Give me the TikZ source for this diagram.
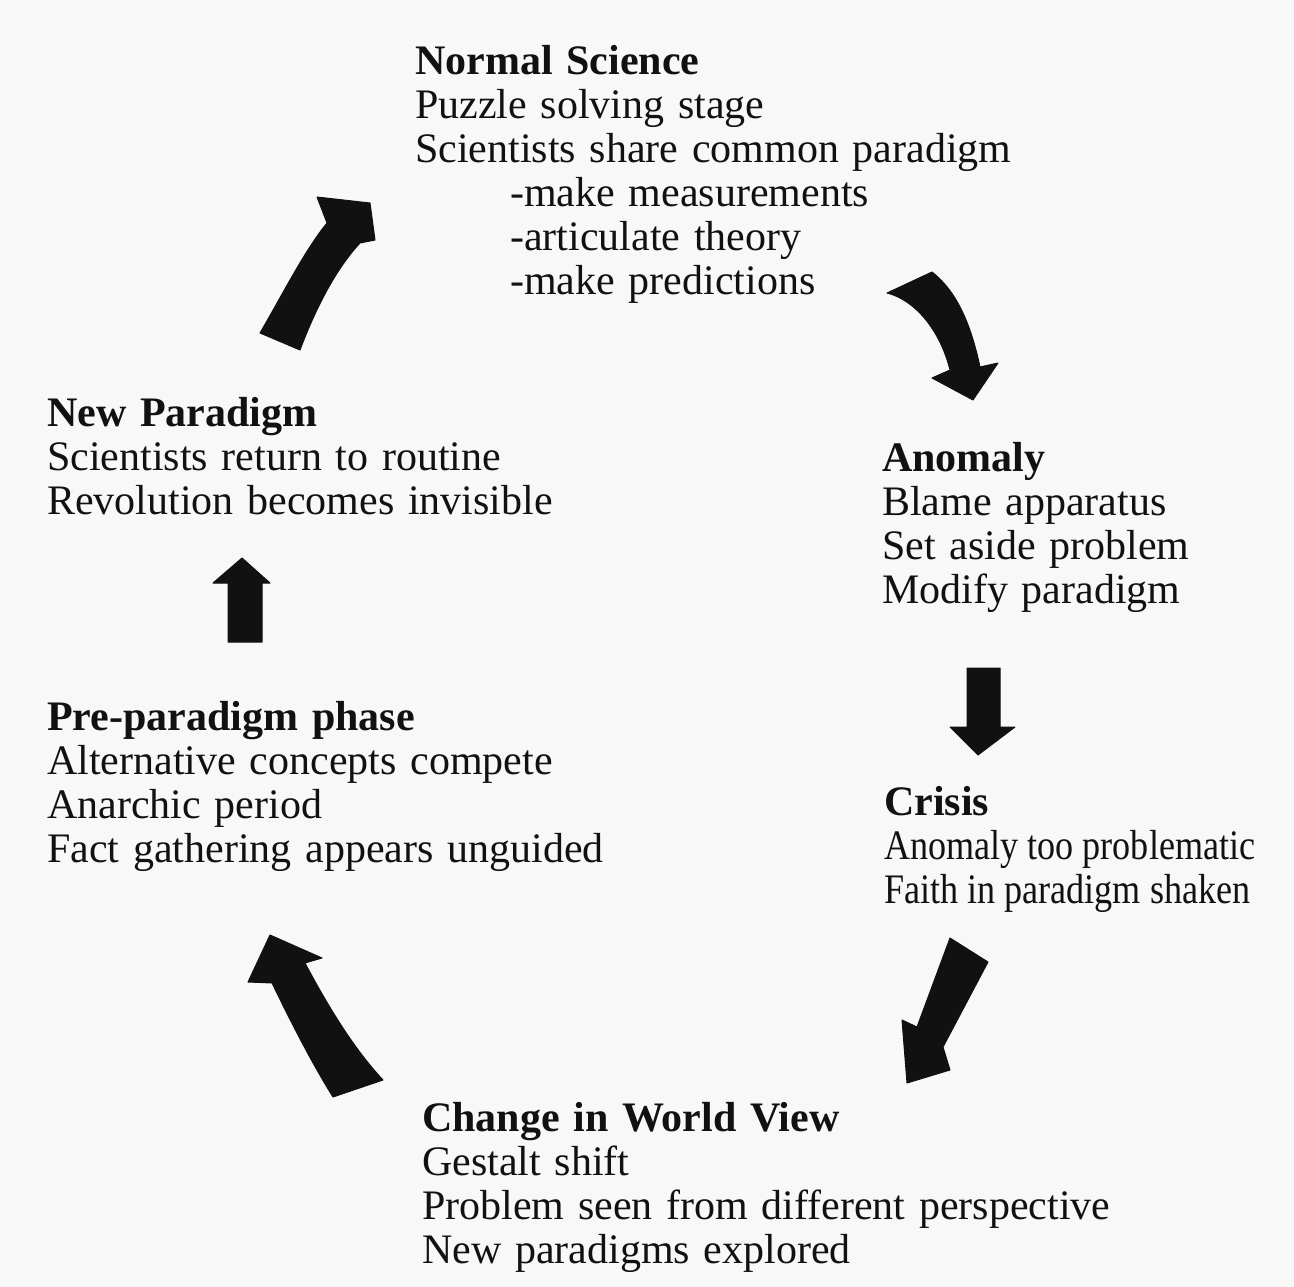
\documentclass[tikz,border=0pt]{standalone}
\usepackage{fontspec}
\setmainfont[WordSpace=1.3]{Liberation Serif}
\newfontfamily\condfont[FakeStretch=0.86]{Liberation Serif}
\definecolor{bg}{HTML}{F8F8F8}
\definecolor{ink}{HTML}{111111}
\begin{document}
\begin{tikzpicture}[x=1pt,y=-1pt,
  blk/.style={anchor=base west, align=left, inner sep=0pt, text=ink,
    font={\fontsize{42}{44}\selectfont}},
  blockarrow/.style={fill=ink, draw=ink, line width=1pt, line join=round}]
\fill[bg] (0,0) rectangle (1294,1287);
\useasboundingbox (0,0) rectangle (1294,1287);

% anchors placed at the baseline of each block's last line
\node[blk] (normal) at (415,294) {\textbf{Normal Science}\\Puzzle solving stage\\Scientists share common paradigm\\\hspace*{95pt}-make measurements\\\hspace*{95pt}-articulate theory\\\hspace*{95pt}-make predictions};

\node[blk] (newpar) at (47,514) {\textbf{New Paradigm}\\Scientists return to routine\\Revolution becomes invisible};

\node[blk] (anomaly) at (882,603) {\textbf{Anomaly}\\Blame apparatus\\Set aside problem\\Modify paradigm};

\node[blk] (prepar) at (47,862) {\textbf{Pre-paradigm phase}\\Alternative concepts compete\\Anarchic period\\Fact gathering appears unguided};

\node[blk] (crisis) at (884,903) {\textbf{Crisis}\\{\condfont Anomaly too problematic}\\{\condfont Faith in paradigm shaken}};

\node[blk] (change) at (422,1263) {\textbf{Change in World View}\\Gestalt shift\\Problem seen from different perspective\\New paradigms explored};

% arrow: New Paradigm -> Normal Science
\path[blockarrow] (260,333) .. controls (285,290) and (305,250) .. (327,223)
  -- (317,197) -- (370,203) -- (375,240) -- (360,243)
  .. controls (335,270) and (315,310) .. (300,350) -- cycle;
% arrow: Normal Science -> Anomaly
\path[blockarrow] (887,293) .. controls (915,300) and (940,330) .. (950,370)
  -- (932,378) -- (973,400) -- (998,363) -- (980,367)
  .. controls (970,320) and (955,290) .. (932,272) -- cycle;
% arrow: Anomaly -> Crisis
\path[blockarrow] (967,668) -- (1000,668) -- (1000,727) -- (1015,727)
  -- (978,755) -- (950,727) -- (967,727) -- cycle;
% arrow: Crisis -> Change in World View
\path[blockarrow] (950,938) -- (988,962) -- (943,1047) -- (950,1070)
  -- (907,1083) -- (902,1020) -- (917,1027) -- cycle;
% arrow: Change in World View -> Pre-paradigm
\path[blockarrow] (270,935) -- (322,958) -- (305,963)
  .. controls (330,1010) and (355,1050) .. (383,1080) -- (333,1097)
  .. controls (310,1060) and (290,1020) .. (272,983) -- (248,982) -- cycle;
% arrow: Pre-paradigm -> New Paradigm
\path[blockarrow] (228,642) -- (228,583) -- (213,583) -- (242,558)
  -- (270,583) -- (262,583) -- (262,642) -- cycle;
\end{tikzpicture}
\end{document}
